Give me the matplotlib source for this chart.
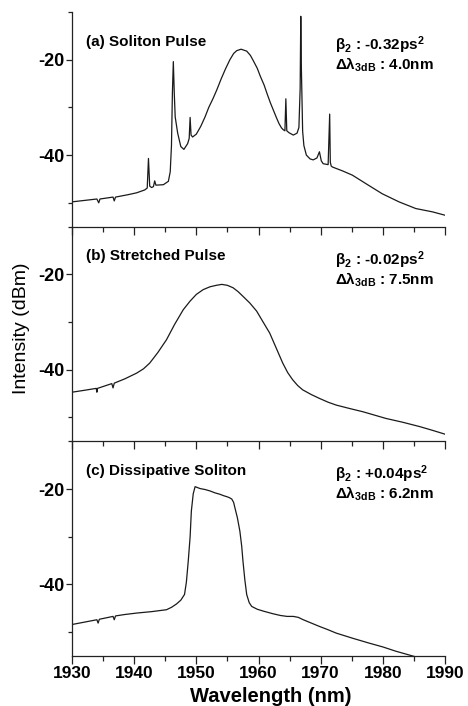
import numpy as np
import matplotlib
matplotlib.use("Agg")
import matplotlib.pyplot as plt
from matplotlib.ticker import MultipleLocator, FixedLocator

plt.rcParams['font.family'] = ['Liberation Sans', 'DejaVu Sans']
plt.rcParams['mathtext.default'] = 'regular'
plt.rcParams['axes.unicode_minus'] = False

# ---- data (wavelength nm, intensity dBm) ----
wl_a = [1930.0, 1932.0, 1934.0, 1934.3, 1934.5, 1936.6, 1936.8, 1937.0, 1939.0, 1940.4, 1941.7, 1942.1,
        1942.3, 1942.5, 1942.8, 1943.1, 1943.3, 1943.5, 1944.7, 1945.5, 1945.8, 1946.0, 1946.15,
        1946.3, 1946.45, 1946.6, 1947.0, 1947.5, 1948.0, 1948.6, 1948.85, 1949.0, 1949.15, 1949.4,
        1950.0, 1950.7, 1951.4, 1952.0, 1952.7, 1953.3, 1954.0, 1954.7, 1955.4, 1956.0, 1956.5,
        1957.2, 1958.1, 1958.7, 1959.2, 1959.8, 1960.3, 1960.9, 1961.4, 1961.9, 1962.4, 1962.9,
        1963.3, 1963.7, 1964.0, 1964.25, 1964.4, 1964.55, 1964.9, 1965.6, 1966.2, 1966.5, 1966.7,
        1966.8, 1966.9, 1967.1, 1967.3, 1967.7, 1968.3, 1968.8, 1969.4, 1969.8, 1970.1, 1970.4,
        1971.2, 1971.45, 1971.55, 1971.7, 1971.9, 1973.5, 1975.1, 1977.3, 1979.9, 1982.6, 1985.3,
        1988.0, 1990.0]
int_a = [-49.8, -49.5, -49.2, -50.0, -49.2, -48.8, -49.6, -48.8, -48.3, -47.9, -47.3, -46.9,
         -40.7, -46.5, -46.8, -46.6, -45.4, -46.3, -46.2, -45.5, -43.5, -38.0, -27.0,
         -20.4, -27.0, -32.0, -35.4, -38.2, -38.8, -37.6, -36.5, -32.1, -35.8, -36.2,
         -35.6, -34.0, -32.0, -30.0, -28.1, -26.3, -24.0, -21.9, -20.0, -18.7, -18.1,
         -17.8, -18.2, -19.1, -20.3, -21.8, -23.5, -25.3, -27.2, -29.0, -30.6, -32.2,
         -33.4, -34.3, -34.7, -34.9, -28.2, -34.9, -35.3, -35.8, -35.4, -34.2, -26.0,
         -10.9, -22.0, -35.0, -38.0, -40.0, -40.8, -41.0, -40.6, -39.3, -41.2, -41.8,
         -42.0, -31.4, -41.5, -42.3, -42.5, -43.3, -44.2, -46.0, -48.1, -49.8, -51.2,
         -51.9, -52.6]

wl_b = [1930.0, 1932.0, 1933.9, 1934.0, 1934.1, 1936.4, 1936.6, 1936.8, 1938.5, 1940.4, 1941.5,
        1942.5, 1943.8, 1945.2, 1946.5, 1947.9, 1949.0, 1950.0, 1951.1, 1952.2, 1953.2, 1954.1,
        1955.0, 1955.9, 1956.7, 1957.5, 1958.6, 1959.7, 1960.7, 1961.8, 1962.9, 1963.9, 1964.7,
        1965.5, 1966.3, 1967.1, 1968.5, 1969.8, 1971.2, 1972.5, 1974.6, 1976.8, 1980.5, 1983.2,
        1985.9, 1988.0, 1990.0]
int_b = [-44.7, -44.3, -43.9, -44.7, -43.9, -42.9, -43.8, -42.8, -41.9, -40.7, -39.8,
         -38.6, -36.4, -33.7, -30.5, -27.4, -25.6, -24.2, -23.2, -22.6, -22.3, -22.1,
         -22.3, -22.8, -23.6, -24.6, -26.0, -27.7, -29.9, -32.3, -35.6, -38.6, -40.6,
         -42.1, -43.3, -44.2, -45.2, -46.0, -46.8, -47.4, -48.1, -48.8, -50.2, -51.0,
         -51.9, -52.7, -53.5]

wl_c = [1930.0, 1932.0, 1934.0, 1934.2, 1934.4, 1936.6, 1936.8, 1937.0, 1938.5, 1940.4, 1942.8,
        1945.2, 1946.0, 1946.8, 1947.5, 1948.1, 1948.4, 1948.7, 1949.0, 1949.2, 1949.5, 1949.8,
        1950.2, 1950.6, 1951.4, 1952.2, 1953.0, 1953.8, 1954.4, 1954.9, 1955.3, 1955.7, 1956.0,
        1956.2, 1956.6, 1957.0, 1957.3, 1957.5, 1957.8, 1958.1, 1958.5, 1958.9, 1959.8, 1960.8,
        1962.2, 1963.5, 1964.6, 1965.6, 1966.4, 1967.2, 1968.5, 1969.8, 1971.2, 1972.5, 1975.2,
        1977.8, 1980.0, 1982.1, 1984.0, 1985.6]
int_c = [-48.4, -47.9, -47.4, -48.1, -47.3, -46.7, -47.4, -46.6, -46.3, -46.0, -45.7,
         -45.3, -44.8, -44.1, -43.3, -42.1, -39.5, -35.1, -30.0, -24.6, -21.0, -19.5,
         -19.7, -19.9, -20.1, -20.4, -20.8, -21.1, -21.4, -21.6, -21.8, -22.1, -22.8,
         -23.9, -26.0, -28.8, -32.0, -35.1, -39.0, -42.1, -43.8, -44.6, -45.2, -45.6,
         -46.1, -46.5, -46.7, -46.7, -46.9, -47.4, -48.1, -48.8, -49.5, -50.2, -51.3,
         -52.3, -53.1, -54.0, -54.7, -55.3]

panel_labels = ['(a) Soliton Pulse', '(b) Stretched Pulse', '(c) Dissipative Soliton']
beta2_text = ['β$_2$ : -0.32ps$^2$', 'β$_2$ : -0.02ps$^2$', 'β$_2$ : +0.04ps$^2$']
bw_text = ['Δλ$_{3dB}$ : 4.0nm', 'Δλ$_{3dB}$ : 7.5nm', 'Δλ$_{3dB}$ : 6.2nm']
x_ticks = [1930, 1940, 1950, 1960, 1970, 1980, 1990]
y_ticks = [-40, -20]

W, H = 468, 706
fig = plt.figure(figsize=(W / 100, H / 100), dpi=100)
left = 72 / W
width = (445 - 72) / W
top_px, bot_px = 12, 656
ph = (bot_px - top_px) / 3

series = [(wl_a, int_a), (wl_b, int_b), (wl_c, int_c)]
line_col = '#1a1a1a'
for i, (wl, it) in enumerate(series):
    y0 = 1 - (top_px + ph * (i + 1)) / H
    ax = fig.add_axes([left, y0, width, ph / H])
    ax.plot(wl, it, color=line_col, lw=0.9)
    ax.set_xlim(1930, 1990)
    ax.set_ylim(-55, -10)
    ax.spines['top'].set_visible(False)
    ax.spines['right'].set_visible(False)
    for s in ('left', 'bottom'):
        ax.spines[s].set_linewidth(0.9)
        ax.spines[s].set_color('#222222')
    ax.xaxis.set_major_locator(FixedLocator(x_ticks))
    ax.xaxis.set_minor_locator(MultipleLocator(5))
    ax.yaxis.set_major_locator(FixedLocator(y_ticks))
    ax.yaxis.set_minor_locator(FixedLocator([-50, -30, -10]))
    ax.tick_params(axis='x', which='major', direction='out', length=6, width=0.9, pad=1,
                   labelsize=12.5, color='#222222')
    ax.tick_params(axis='x', which='minor', direction='out', length=3.5, width=0.9, color='#222222')
    ax.tick_params(axis='y', which='major', direction='out', length=4, width=0.9, pad=1.5,
                   labelsize=13, color='#222222')
    ax.tick_params(axis='y', which='minor', direction='out', length=3, width=0.9, color='#222222')
    for lab in ax.get_yticklabels():
        lab.set_fontweight('bold')
    if i < 2:
        ax.set_xticklabels([])
    else:
        for lab in ax.get_xticklabels():
            lab.set_fontweight('bold')
    ax.patch.set_alpha(0)
    ax.text(0.038, 0.895, panel_labels[i], transform=ax.transAxes,
            fontsize=11, fontweight='bold', va='top', ha='left')
    ax.text(0.705, 0.895, beta2_text[i] + '\n' + bw_text[i], transform=ax.transAxes,
            fontsize=11, fontweight='bold', va='top', ha='left', linespacing=0.95)

fig.text(271 / W, 1 - 697 / H, 'Wavelength (nm)', fontsize=14.5, fontweight='bold',
         ha='center', va='center')
fig.text(22 / W, 1 - 328 / H, 'Intensity (dBm)', rotation=90, fontsize=14,
         ha='center', va='center')

fig.savefig('out.png', dpi=100)
